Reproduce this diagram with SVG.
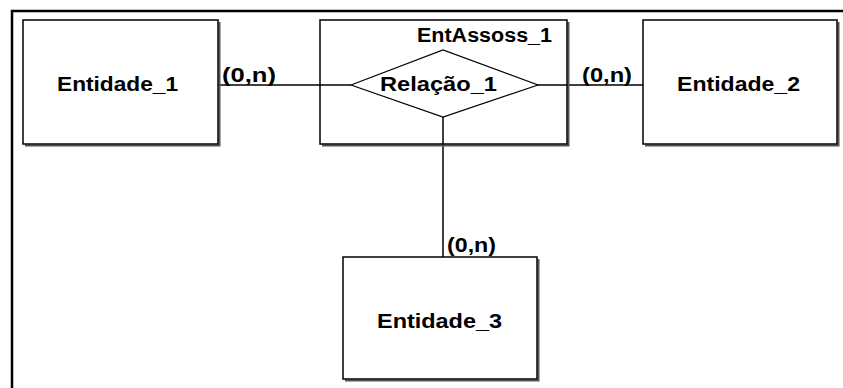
<svg xmlns="http://www.w3.org/2000/svg" width="843" height="388" viewBox="0 0 843 388">
<style>
.box{fill:#fff;stroke:#000;stroke-width:1.5}
.shadow{fill:none;stroke:#555;stroke-width:2}
.lbl{font-family:"Liberation Sans",Arial,sans-serif;font-weight:bold;font-size:20px;fill:#000}
.conn{stroke:#000;stroke-width:1.5;fill:none}
.frame{stroke:#000;stroke-width:2.5;fill:none}
</style>
<rect width="843" height="388" fill="#fff"/>
<path class="frame" d="M12,388 V11 H843"/>
<g id="connectors">
<line class="conn" x1="218" y1="85" x2="351" y2="85"/>
<line class="conn" x1="538" y1="85" x2="643" y2="85"/>
<line class="conn" x1="443" y1="117" x2="443" y2="257"/>
<text class="lbl" x="222" y="82" textLength="54" lengthAdjust="spacingAndGlyphs">(0,n)</text>
<text class="lbl" x="582" y="82" textLength="50" lengthAdjust="spacingAndGlyphs">(0,n)</text>
<text class="lbl" x="447" y="252" textLength="49" lengthAdjust="spacingAndGlyphs">(0,n)</text>
</g>
<g id="Entidade_1">
<polyline class="shadow" points="25,145.5 219.5,145.5 219.5,22"/>
<rect class="box" x="23" y="20" width="195" height="124"/>
<text class="lbl" x="117.5" y="91" text-anchor="middle" textLength="121" lengthAdjust="spacingAndGlyphs">Entidade_1</text>
</g>
<g id="EntAssoss_1">
<polyline class="shadow" points="322,145.5 568.5,145.5 568.5,22"/>
<rect x="320" y="20" width="247" height="124" fill="none" stroke="#000" stroke-width="1.5"/>
<text class="lbl" x="417" y="42" textLength="135" lengthAdjust="spacingAndGlyphs">EntAssoss_1</text>
</g>
<g id="Relacao_1">
<polygon points="351,85 443,50 538,85 443,117" fill="#fff" stroke="#000" stroke-width="1.2"/>
<text class="lbl" x="380" y="91" textLength="117" lengthAdjust="spacingAndGlyphs">Relação_1</text>
</g>
<g id="Entidade_2">
<polyline class="shadow" points="645,145.5 838.5,145.5 838.5,22"/>
<rect class="box" x="643" y="20" width="194" height="124"/>
<text class="lbl" x="738.5" y="91" text-anchor="middle" textLength="123" lengthAdjust="spacingAndGlyphs">Entidade_2</text>
</g>
<g id="Entidade_3">
<polyline class="shadow" points="345,380.5 538.5,380.5 538.5,259"/>
<rect class="box" x="343" y="257" width="194" height="122"/>
<text class="lbl" x="439.5" y="328" text-anchor="middle" textLength="125" lengthAdjust="spacingAndGlyphs">Entidade_3</text>
</g>
</svg>
